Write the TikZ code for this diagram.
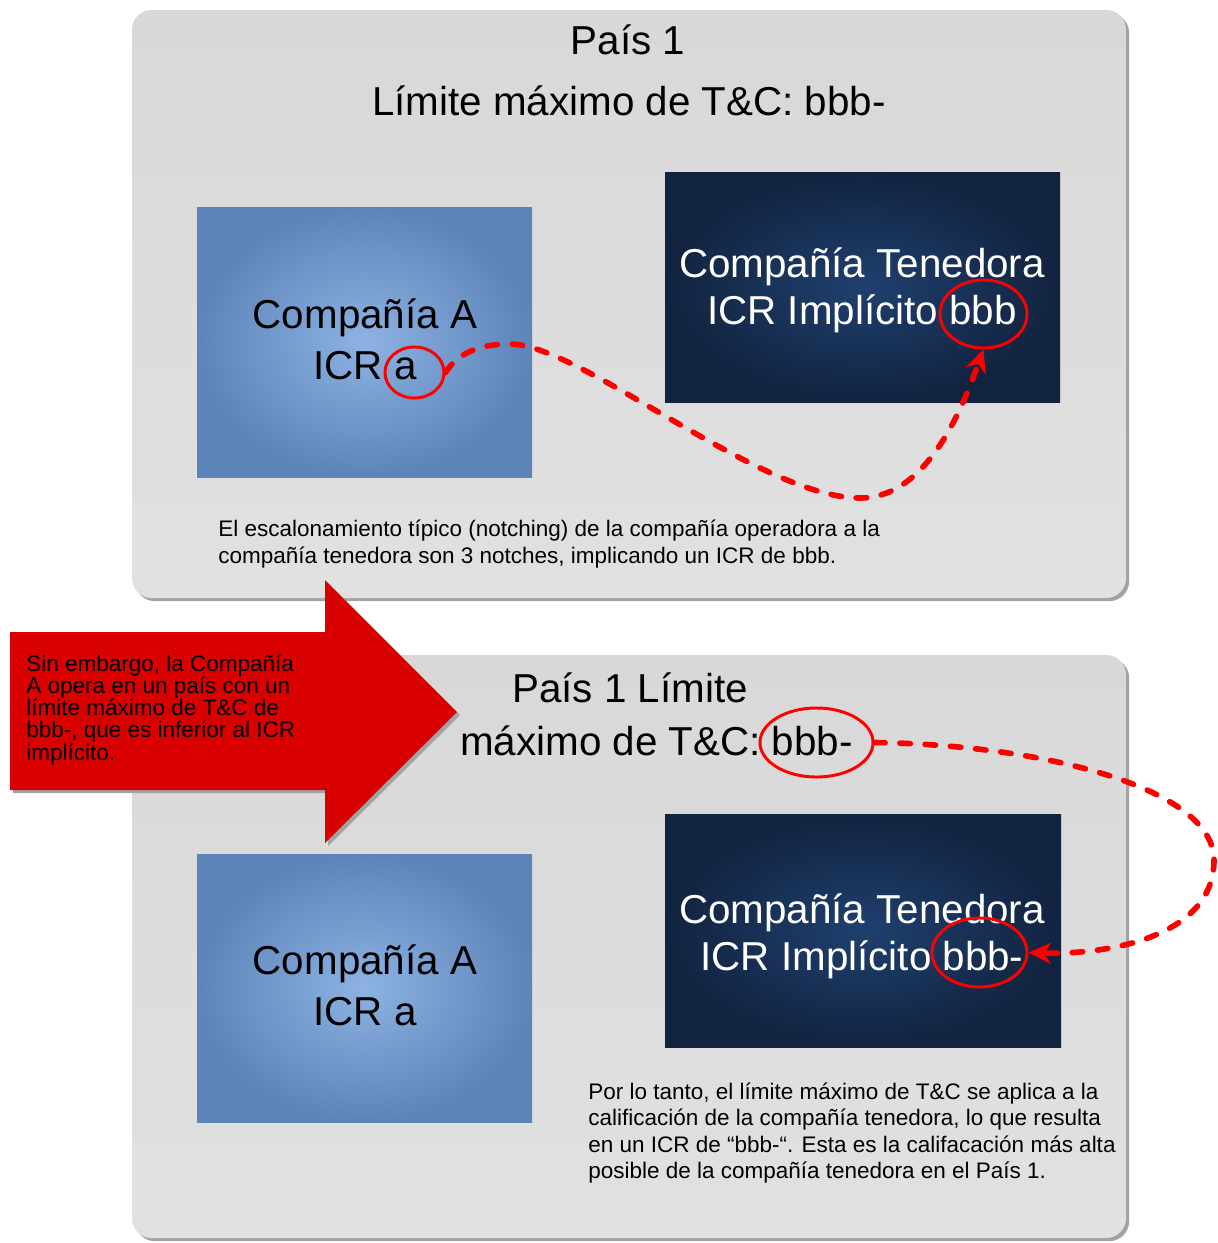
\documentclass[tikz,border=0pt]{standalone}
\usepackage{fontspec}
\setmainfont{Liberation Sans}
\usetikzlibrary{shapes.geometric,arrows.meta,shadows}

\definecolor{grisarriba}{HTML}{D8D8D8}
\definecolor{grisabajo}{HTML}{E1E1E1}
\definecolor{sombra}{HTML}{A3A3A3}
\definecolor{azulin}{HTML}{8DB2E3}
\definecolor{azulout}{HTML}{5D84B9}
\definecolor{navyin}{HTML}{1F406F}
\definecolor{navyout}{HTML}{12233F}
\definecolor{flecharoja}{HTML}{D80000}
\definecolor{rojo}{HTML}{FF0000}

\begin{document}
\begin{tikzpicture}[x=0.025cm, y=-0.025cm,
  pais/.style={rounded corners=14pt, top color=grisarriba, bottom color=grisabajo,
    drop shadow={shadow xshift=2.2pt, shadow yshift=-2.2pt, fill=sombra, opacity=1}},
  opbox/.style={inner color=azulin, outer color=azulout},
  hcbox/.style={inner color=navyin, outer color=navyout},
  big/.style={font=\fontsize{28.7}{35.6}\selectfont, align=center, inner sep=0pt},
  small/.style={font=\fontsize{16}{18.5}\selectfont, align=left, inner sep=0pt},
  ring/.style={ellipse, draw=rojo, line width=2.1pt, inner sep=0pt},
  flujo/.style={draw=rojo, line width=4pt, dash pattern=on 7.5pt off 10.5pt, line cap=round,
    -{Stealth[length=16pt,width=15pt,inset=5pt]}}]
\useasboundingbox (0,0) rectangle (1217,1243);

% country panels
\path[pais] (132,10) rectangle (1126,598);
\path[pais] (132,655) rectangle (1126,1238);

% companies, first panel
\path[opbox] (197,207) rectangle (532,477);
\path[hcbox] (665,172) rectangle (1060,402);
\node[big, anchor=base] (pais1) at (628,54) {País 1};
\node[big, anchor=base] (techo1) at (629,115) {Límite máximo de T\&C: bbb-};
\node[big, anchor=base] (opA1) at (365,379) {Compañía A\\ICR a};
\node[big, anchor=base, text=white, font=\fontsize{28.7}{33.4}\selectfont] (hold1) at (862,324) {Compañía Tenedora\\ICR Implícito bbb};
\node[small, anchor=base west] (nota1) at (218,563) {El escalonamiento típico (notching) de la compañía operadora a la\\compañía tenedora son 3 notches, implicando un ICR de bbb.};

% companies, second panel
\path[opbox] (197,854) rectangle (532,1122);
\path[hcbox] (665,814) rectangle (1061,1047);
\node[big, anchor=base west] (pais2) at (512,702) {País 1 Límite};
\node[big, anchor=base west] (techo2) at (460,755) {máximo de T\&C: bbb-};
\node[big, anchor=base] (opA2) at (365,1025) {Compañía A\\ICR a};
\node[big, anchor=base, text=white, font=\fontsize{28.7}{33.4}\selectfont] (hold2) at (862,970) {Compañía Tenedora\\ICR Implícito bbb-};
\node[small, anchor=base west] (nota2) at (588,1178) {Por lo tanto, el límite máximo de T\&C se aplica a la\\calificación de la compañía tenedora, lo que resulta\\en un ICR de “bbb-“. Esta es la califacación más alta\\posible de la compañía tenedora en el País 1.};

% big red arrow
\path[fill=flecharoja, drop shadow={shadow xshift=2.2pt, shadow yshift=-2.2pt, fill=sombra, opacity=1}]
  (10,632) -- (325,632) -- (325,580) -- (457,712) -- (325,843) -- (325,790) -- (10,790) -- cycle;
\node[small, anchor=base west, font=\fontsize{16}{15.7}\selectfont] (sinembargo) at (26,760) {Sin embargo, la Compañía\\A opera en un país con un\\límite máximo de T\&C de\\bbb-, que es inferior al ICR\\implícito.};

% marks and links
\node[ring, minimum width=42pt, minimum height=36.3pt] (ringA) at (414.5,372.5) {};
\node[ring, minimum width=61.9pt, minimum height=48.4pt] (ringT) at (983.5,314) {};
\node[ring, minimum width=80.4pt, minimum height=49.1pt] (ringL) at (816.5,742.5) {};
\node[ring, minimum width=67.6pt, minimum height=49.1pt] (ringB) at (979.5,952.5) {};
\coordinate (cresta) at (510,344);
\coordinate (valle) at (860,498);
\coordinate (giro) at (1214,860);
\draw[flujo] (ringA.east) .. controls (460,350) and (485,344) .. (cresta)
  .. controls (580,344) and (760,498) .. (valle)
  .. controls (930,498) and (965,400) .. (ringT.south);
\draw[flujo] (ringL.east) .. controls (1050,745) and (1214,790) .. (giro)
  .. controls (1214,940) and (1100,955) .. (ringB.east);

\end{tikzpicture}
\end{document}
